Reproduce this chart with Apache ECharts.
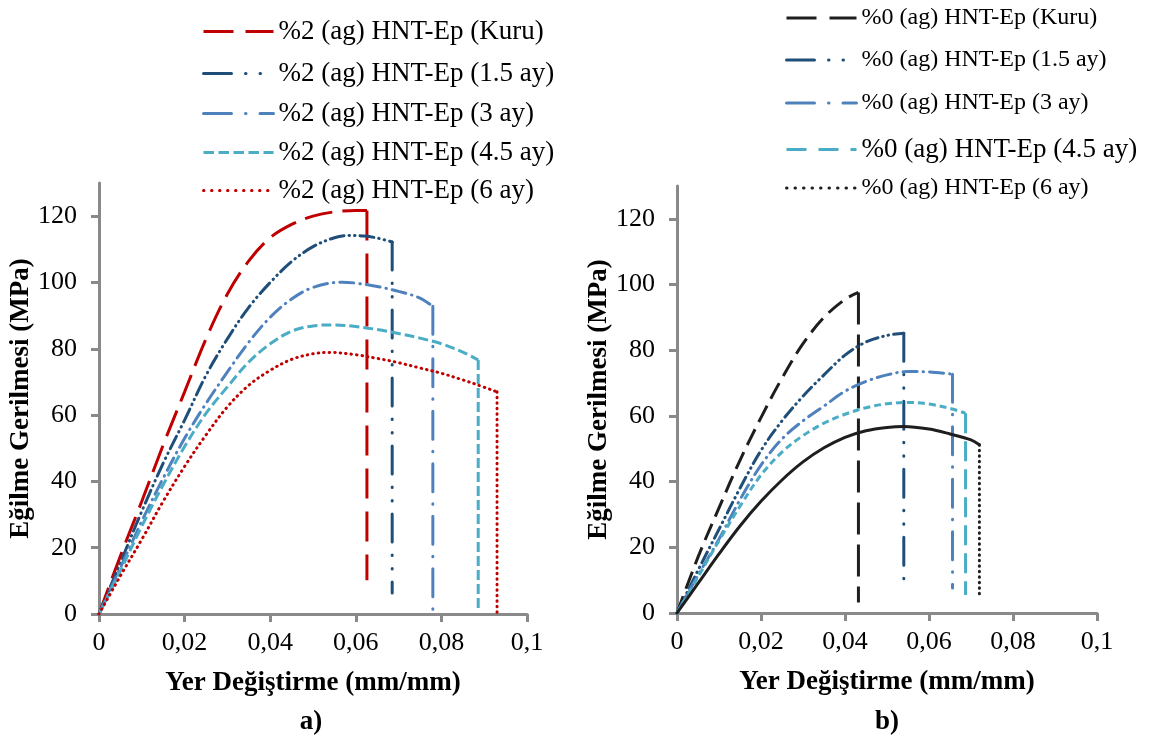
<!DOCTYPE html>
<html>
<head>
<meta charset="utf-8">
<script src="https://cdn.jsdelivr.net/npm/echarts@6/dist/echarts.min.js"></script>
<style>
  html, body { margin: 0; padding: 0; background: #fff; }
  #chart { width: 1155px; height: 743px; }
</style>
</head>
<body>
<div id="chart"></div>
<script>
// Flexural stress vs. strain for HNT-epoxy after water ageing
const FONT = '"Liberation Serif", "Times New Roman", serif';

// Axis ticks
const xTickValues = [0, 0.02, 0.04, 0.06, 0.08, 0.1];
const xTickLabels = ['0', '0,02', '0,04', '0,06', '0,08', '0,1'];
const yTickValues = [0, 20, 40, 60, 80, 100, 120];

// Panel a) %2 (ag) HNT-Ep
const aNames = ['%2 (ag) HNT-Ep (Kuru)', '%2 (ag) HNT-Ep (1.5 ay)', '%2 (ag) HNT-Ep (3 ay)', '%2 (ag) HNT-Ep (4.5 ay)', '%2 (ag) HNT-Ep (6 ay)'];
const aStrainKuru = [0, 0.005, 0.01, 0.015, 0.02, 0.025, 0.03, 0.035, 0.04, 0.045, 0.05, 0.055, 0.06, 0.0626];
const aStressKuru = [0, 17.5, 34, 51, 67, 83, 96.5, 106.5, 113.5, 117.5, 120, 121.3, 121.7, 121.7];
const aStrain15 = [0, 0.005, 0.01, 0.015, 0.02, 0.025, 0.03, 0.035, 0.04, 0.045, 0.05, 0.055, 0.0587, 0.062, 0.065, 0.0685];
const aStress15 = [0, 15.5, 31, 45.5, 58.5, 72, 83, 92.5, 100, 106.3, 110.8, 113.5, 114.2, 114, 113.4, 112.2];
const aStrain3 = [0, 0.005, 0.01, 0.015, 0.02, 0.025, 0.03, 0.035, 0.04, 0.045, 0.05, 0.0568, 0.06, 0.065, 0.07, 0.075, 0.078];
const aStress3 = [0, 14, 28, 41, 53, 63.5, 73, 82, 89.5, 95, 98.5, 100.1, 99.8, 98.8, 97.3, 95.3, 92.8];
const aStrain45 = [0, 0.005, 0.01, 0.015, 0.02, 0.025, 0.03, 0.035, 0.04, 0.045, 0.05, 0.055, 0.06, 0.065, 0.07, 0.075, 0.08, 0.085, 0.0886];
const aStress45 = [0, 13, 26.5, 39, 50.5, 60.5, 68.5, 76, 81.5, 85.3, 86.9, 87.2, 86.7, 85.8, 84.6, 83.2, 81.5, 79, 76.6];
const aStrain6 = [0, 0.005, 0.01, 0.015, 0.02, 0.025, 0.03, 0.035, 0.04, 0.045, 0.05, 0.054, 0.06, 0.065, 0.07, 0.075, 0.08, 0.085, 0.088, 0.093];
const aStress6 = [0, 11.5, 22.5, 34, 44.5, 54, 62.5, 69, 73.5, 76.8, 78.5, 78.9, 78.2, 77.1, 75.8, 74.2, 72.6, 70.6, 69.3, 67];
// stress left after the fracture drop
const aFractureEnd = [10.2, 6.3, 0, 0.6, 0.3];

// Panel b) %0 (ag) HNT-Ep
const bNames = ['%0 (ag) HNT-Ep (Kuru)', '%0 (ag) HNT-Ep (1.5 ay)', '%0 (ag) HNT-Ep (3 ay)', '%0 (ag) HNT-Ep (4.5 ay)', '%0 (ag) HNT-Ep (6 ay)'];
const bStrainKuru = [0, 0.005, 0.01, 0.015, 0.02, 0.025, 0.03, 0.035, 0.04, 0.0432];
const bStressKuru = [0, 17, 32, 46.5, 59.5, 71.5, 82, 90, 95.5, 97.6];
const bStrain15 = [0, 0.005, 0.01, 0.015, 0.02, 0.025, 0.03, 0.035, 0.04, 0.045, 0.05, 0.054];
const bStress15 = [0, 13, 25.5, 38, 49.5, 58.5, 66, 72.5, 78.5, 82.5, 84.5, 85.2];
const bStrain3 = [0, 0.005, 0.01, 0.015, 0.02, 0.025, 0.03, 0.035, 0.04, 0.045, 0.05, 0.055, 0.06, 0.0656];
const bStress3 = [0, 11.5, 22.5, 34.5, 45, 53, 58.5, 63, 67.5, 70.5, 72.5, 73.5, 73.4, 72.7];
const bStrain45 = [0, 0.005, 0.01, 0.015, 0.02, 0.025, 0.03, 0.035, 0.04, 0.045, 0.05, 0.055, 0.06, 0.065, 0.0687];
const bStress45 = [0, 11, 22, 32.5, 42, 49, 54, 57.8, 60.5, 62.5, 63.7, 64.1, 63.6, 62.3, 60.8];
const bStrain6 = [0, 0.005, 0.01, 0.015, 0.02, 0.025, 0.03, 0.035, 0.04, 0.045, 0.05, 0.054, 0.06, 0.065, 0.07, 0.072];
const bStress6 = [0, 9, 18, 26.5, 34, 40.5, 46, 50.3, 53.5, 55.5, 56.5, 56.8, 56, 54.5, 52.7, 51.2];
const bFractureEnd = [3.2, 6.5, 7.6, 5.5, 5.5];

// Line styles (colour, dash pattern on the curve, on the fracture drop, in the legend)
const aStyles = [
  { color: '#c00000', curve: [28, 10], drop: [30, 13], cap: 'butt', legend: [30, 12] },
  { color: '#1f4e79', curve: [14, 5, 0.5, 5, 0.5, 5], drop: [28, 13, 0.5, 13, 0.5, 13], cap: 'round', legend: [28, 14, 0.5, 14, 0.5, 14] },
  { color: '#4f81bd', curve: [14, 6, 0.5, 6], drop: [28, 12, 0.5, 12], cap: 'round', legend: [28, 14, 0.5, 14] },
  { color: '#4bacc6', curve: [10, 4], drop: [10, 4], cap: 'butt', legend: [10.5, 4.5] },
  { color: '#c00000', curve: [0.5, 5], drop: [0.5, 5], cap: 'round', legend: [0.5, 7.5] }
];
const bStyles = [
  { color: '#1e1e1e', curve: [18, 8], drop: [32, 10], cap: 'butt', legend: [30, 13] },
  { color: '#1f4e79', curve: [12, 5, 0.5, 5, 0.5, 5], drop: [28, 13, 0.5, 13, 0.5, 13], cap: 'round', legend: [28, 14, 0.5, 14, 0.5, 14] },
  { color: '#4f81bd', curve: [14, 6, 0.5, 6], drop: [28, 12, 0.5, 12], cap: 'round', legend: [28, 14, 0.5, 14] },
  { color: '#4bacc6', curve: [7, 4], drop: [20, 8], cap: 'butt', legend: [20, 12] },
  { color: '#1e1e1e', curve: 'solid', drop: [0.5, 5], cap: 'round', legend: [0.5, 8] }
];

// Legend placement (icon left edge, row centre, font size)
const aLegendPos = { left: 202, rows: [25, 67, 107, 146, 184], sizes: [27, 27, 27, 27, 27] };
const bLegendPos = { left: 785, rows: [13, 55, 98, 143, 183], sizes: [24, 24, 24, 27, 24] };

function pairs(xs, ys) { return xs.map((x, i) => [x, ys[i]]); }

function panelSeries(idx, names, strains, stresses, ends, styles) {
  const out = [];
  names.forEach((name, i) => {
    const st = styles[i];
    const xs = strains[i], ys = stresses[i];
    const lastX = xs[xs.length - 1], lastY = ys[ys.length - 1];
    out.push({
      type: 'line', name, xAxisIndex: idx, yAxisIndex: idx,
      data: pairs(xs, ys), smooth: 0.35, symbol: 'none',
      lineStyle: { color: st.color, width: 3, type: st.curve, cap: st.cap },
      itemStyle: { color: st.color }, silent: true
    });
    out.push({
      type: 'line', name, xAxisIndex: idx, yAxisIndex: idx,
      data: [[lastX, lastY], [lastX, ends[i]]], symbol: 'none',
      lineStyle: { color: st.color, width: 3, type: st.drop, cap: st.cap },
      itemStyle: { color: st.color }, silent: true
    });
  });
  return out;
}

function panelLegends(names, styles, pos) {
  return names.map((name, i) => ({
    left: pos.left, top: pos.rows[i] - 7, padding: 0,
    itemWidth: 70, itemHeight: 14, selectedMode: false,
    data: [name],
    // line-only key: the marker symbol is made transparent
    itemStyle: { color: 'rgba(0,0,0,0)', borderWidth: 0, opacity: 0 },
    lineStyle: { color: styles[i].color, width: 3, type: styles[i].legend, cap: styles[i].cap },
    textStyle: { fontFamily: FONT, fontSize: pos.sizes[i], color: '#000' }
  }));
}

const axisGray = '#898989';
function xAxis(idx) {
  return {
    type: 'value', gridIndex: idx, min: 0, max: 0.1, interval: 0.02,
    name: 'Yer Değiştirme (mm/mm)', nameLocation: 'middle', nameGap: 56,
    nameTextStyle: { fontFamily: FONT, fontSize: 27, fontWeight: 'bold', color: '#000' },
    axisLine: { show: true, onZero: false, lineStyle: { color: axisGray, width: 3 } },
    axisTick: { show: true, length: 8, customValues: xTickValues, lineStyle: { color: axisGray, width: 3 } },
    axisLabel: {
      customValues: xTickValues, margin: 16, fontFamily: FONT, fontSize: 26, color: '#000',
      formatter: v => {
        const k = xTickValues.findIndex(t => Math.abs(t - v) < 1e-9);
        return k >= 0 ? xTickLabels[k] : '';
      }
    },
    splitLine: { show: false }
  };
}
function yAxis(idx, gap) {
  return {
    type: 'value', gridIndex: idx, min: 0, max: 130, interval: 10,
    name: 'Eğilme Gerilmesi (MPa)', nameLocation: 'middle', nameGap: gap,
    nameTextStyle: { fontFamily: FONT, fontSize: 27, fontWeight: 'bold', color: '#000' },
    axisLine: { show: true, lineStyle: { color: axisGray, width: 3 } },
    axisTick: { show: true, length: 8, customValues: yTickValues, lineStyle: { color: axisGray, width: 3 } },
    axisLabel: { customValues: yTickValues, margin: 22, fontFamily: FONT, fontSize: 26, color: '#000' },
    splitLine: { show: false }
  };
}

const chart = echarts.init(document.getElementById('chart'), null, { renderer: 'canvas' });
chart.setOption({
  animation: false,
  backgroundColor: '#fff',
  title: [
    { text: 'a)', left: 311, top: 709, textAlign: 'center', padding: 0,
      textStyle: { fontFamily: FONT, fontSize: 27, fontWeight: 'bold', color: '#000' } },
    { text: 'b)', left: 887, top: 709, textAlign: 'center', padding: 0,
      textStyle: { fontFamily: FONT, fontSize: 27, fontWeight: 'bold', color: '#000' } }
  ],
  grid: [
    { left: 99, top: 183, width: 428, height: 431 },
    { left: 677, top: 186, width: 420, height: 427 }
  ],
  xAxis: [xAxis(0), xAxis(1)],
  yAxis: [yAxis(0, 58), yAxis(1, 61)],
  legend: [
    ...panelLegends(aNames, aStyles, aLegendPos),
    ...panelLegends(bNames, bStyles, bLegendPos)
  ],
  series: [
    ...panelSeries(0, aNames,
      [aStrainKuru, aStrain15, aStrain3, aStrain45, aStrain6],
      [aStressKuru, aStress15, aStress3, aStress45, aStress6], aFractureEnd, aStyles),
    ...panelSeries(1, bNames,
      [bStrainKuru, bStrain15, bStrain3, bStrain45, bStrain6],
      [bStressKuru, bStress15, bStress3, bStress45, bStress6], bFractureEnd, bStyles)
  ]
});
</script>
</body>
</html>
